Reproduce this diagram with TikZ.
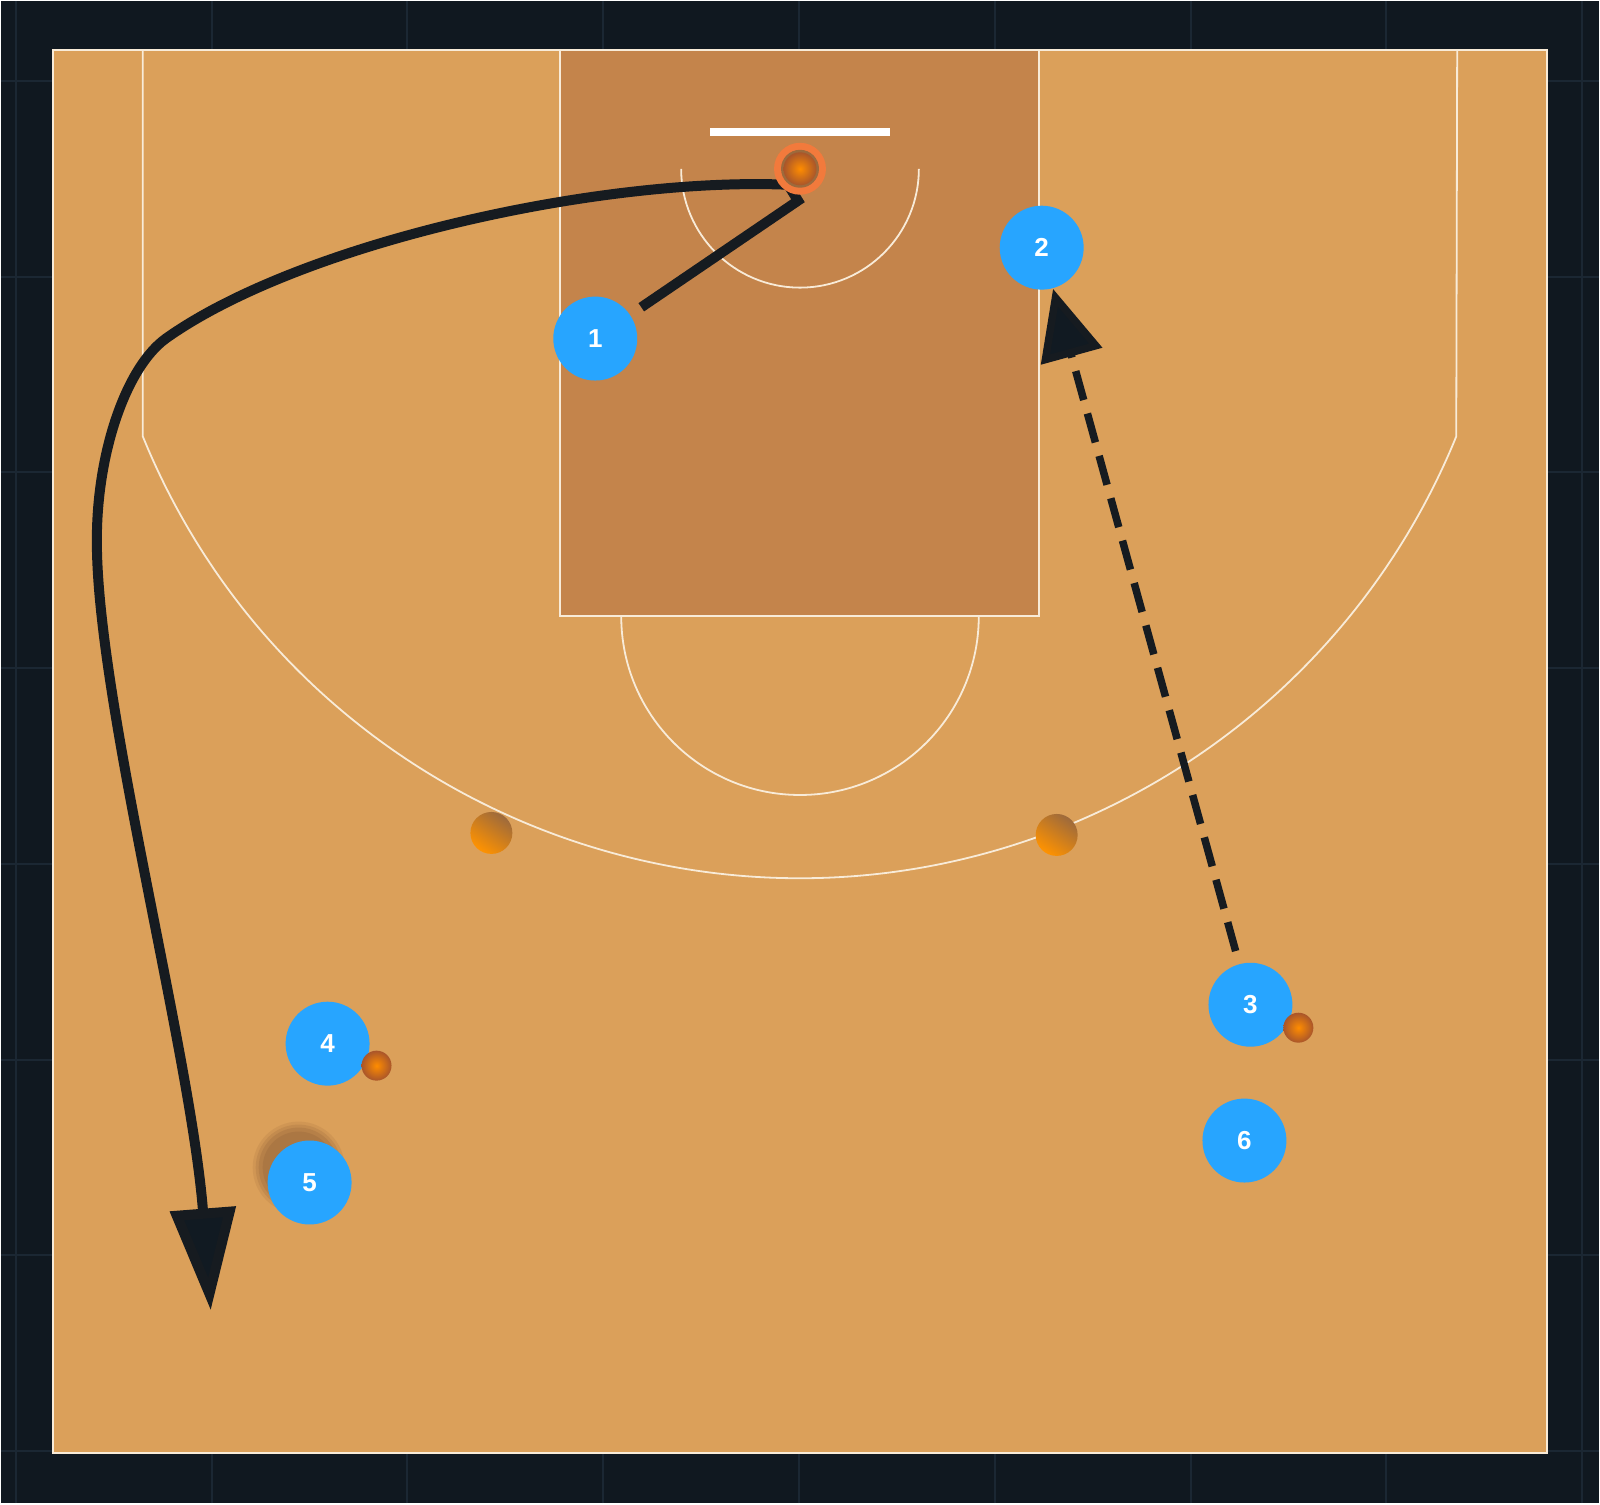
\documentclass[tikz,border=0pt]{standalone}
\usepackage{fontspec}
\setmainfont{Liberation Sans}
\usetikzlibrary{arrows.meta}
\definecolor{bgnavy}{HTML}{101820}
\definecolor{gridnavy}{HTML}{1B2733}
\definecolor{court}{HTML}{DBA05A}
\definecolor{paint}{HTML}{C4844B}
\definecolor{courtline}{HTML}{F8EBD8}
\definecolor{playerblue}{HTML}{27A5FF}
\definecolor{ink}{HTML}{161B20}
\definecolor{inktip}{HTML}{111A22}
\definecolor{rim}{HTML}{F27A3C}

\begin{document}
\begin{tikzpicture}[x=0.01cm,y=0.01cm,
  player/.style={circle,fill=playerblue,text=white,inner sep=0pt,minimum size=0.84cm,
    font=\bfseries\fontsize{7.4}{8}\selectfont},
  lines/.style={courtline,line width=0.018cm},
  cone/.style={top color=paint!80!black,bottom color=orange!85!yellow,shading angle=-35},
  ball/.style={inner color=orange!90!yellow,outer color=rim!70!black},
  cut/.style={ink,line width=0.1cm,-{Triangle[length=1.02cm,width=0.64cm,fill=inktip]}},
  pass/.style={ink,line width=0.075cm,dash pattern=on 0.3cm off 0.14cm,
    -{Triangle[length=0.7cm,width=0.62cm,fill=inktip]}}]
				% background and grid
				\fill[bgnavy] (0,0) rectangle (1600,1504);
				\foreach \gx in {15,211,407,603,799,995,1191,1387,1583}
					\draw[gridnavy,line width=0.02cm] (\gx,0) -- (\gx,1504);
				\foreach \gy in {52,248,444,640,836,1032,1228,1424}
					\draw[gridnavy,line width=0.02cm] (0,\gy) -- (1600,\gy);
				
				% court
				\fill[court] (52,50) rectangle (1548,1455);
				\fill[paint] (560,888) rectangle (1039,1455);
				\draw[lines] (52,50) rectangle (1548,1455);
				\draw[lines] (560,1455) -- (560,888) -- (1039,888) -- (1039,1455);
				\draw[lines] (621,888) arc[start angle=180,end angle=360,radius=179];
				\draw[lines] (681,1336) arc[start angle=180,end angle=360,radius=119];
				\draw[lines] (142,1455) -- (142,1068) arc[start angle=202.16,end angle=337.84,radius=710] -- (1458,1455);
				\draw[white,line width=0.075cm] (710,1373) -- (890,1373);
				
				% cones
				\shade[cone] (491,671) circle (21);
				\shade[cone] (1057,669) circle (21);
				
				% soft shadow under 5
				\foreach \r/\o in {46/0.15,43/0.2,40/0.25,36/0.3}
					\fill[paint!75!black,opacity=\o] (298,336) circle (\r);
				
				% players
				\node[player] (p1) at (595,1166) {1};
				\node[player] (p2) at (1042,1257) {2};
				\node[player] (p3) at (1251,499) {3};
				\node[player] (p4) at (327,460) {4};
				\node[player] (p5) at (309,321) {5};
				\node[player] (p6) at (1245,363) {6};
				
				% balls
				\shade[ball] (376,438) circle (15);
				\shade[ball] (1299,476) circle (15);
				
				% cut and pass
				\coordinate (k1) at (798,1304);
				\coordinate (k2) at (788,1320);
				\coordinate (k3) at (165,1166);
				\coordinate (k4) at (96,960);
				\coordinate (tip) at (210,193);
				\draw[cut,shorten <=0.13cm] (p1) -- (k1) -- (k2)
					.. controls (600,1328) and (300,1262) .. (k3)
					.. controls (125,1137) and (95,1050) .. (k4)
					.. controls (97,800) and (190,450) .. (tip);
				\draw[pass,shorten <=0.13cm] (p3) -- (p2);
				
				% hoop
				\fill[rim] (800,1336) circle (26);
				\fill[paint!80!black] (800,1336) circle (19);
				\shade[ball] (800,1336) circle (16.5);
			\end{tikzpicture}
\end{document}
